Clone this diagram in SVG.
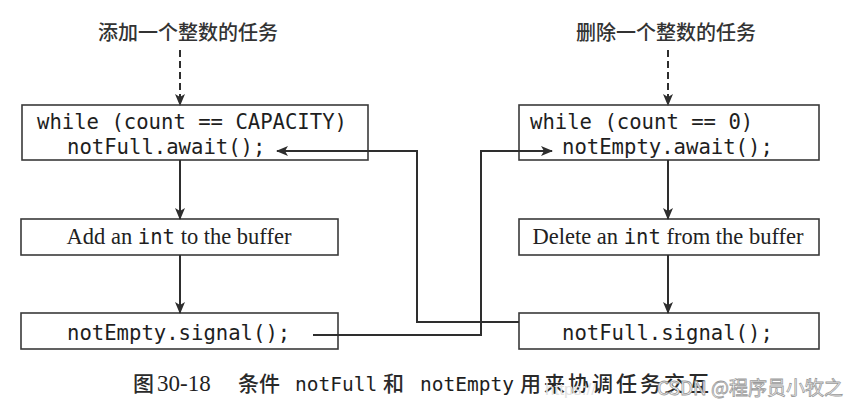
<svg xmlns="http://www.w3.org/2000/svg" width="864" height="415" viewBox="0 0 864 415">
<defs>
<marker id="ah" markerWidth="12" markerHeight="10" refX="11" refY="5" orient="auto" markerUnits="userSpaceOnUse">
<path d="M0,0 L12,5 L0,10 L3,5 Z" fill="#2e2e2e"/>
</marker>
</defs>
<style>
.box{fill:#ffffff;stroke:#3a3a3a;stroke-width:1.6}
.mono{font-family:"DejaVu Sans Mono","Liberation Mono",monospace;font-size:20.6px;fill:#1e1e1e}
.serif{font-family:"Liberation Serif","Noto Sans CJK SC",serif;font-size:22.5px;fill:#222}
.cjk{font-family:"Noto Sans CJK SC",sans-serif;font-size:20px;fill:#333;font-weight:500}
.cap{font-family:"Noto Sans CJK SC",sans-serif;font-size:21px;fill:#2a2a2a;font-weight:500}
.conn{fill:none;stroke:#2e2e2e;stroke-width:2}
.dash{fill:none;stroke:#2e2e2e;stroke-width:2;stroke-dasharray:7 4}
</style>
<rect x="0" y="0" width="864" height="415" fill="#ffffff"/>

<g id="title-left"><text class="cjk" x="188" y="40" text-anchor="middle">添加一个整数的任务</text></g>
<g id="title-right"><text class="cjk" x="666" y="40" text-anchor="middle">删除一个整数的任务</text></g>

<g id="left-wait">
<rect class="box" x="22" y="105" width="346" height="55"/>
<text class="mono" x="37" y="129">while (count == CAPACITY)</text>
<text class="mono" x="67" y="154">notFull.await();</text>
</g>
<g id="left-add">
<rect class="box" x="21" y="219" width="317" height="36"/>
<text class="serif" x="179" y="244" text-anchor="middle">Add an <tspan class="mono" style="font-size:20.6px">int</tspan> to the buffer</text>
</g>
<g id="left-signal">
<rect class="box" x="21" y="313" width="317" height="36"/>
<text class="mono" x="67" y="340">notEmpty.signal();</text>
</g>

<g id="right-wait">
<rect class="box" x="519" y="105" width="300" height="55"/>
<text class="mono" x="530" y="129">while (count == 0)</text>
<text class="mono" x="562" y="154">notEmpty.await();</text>
</g>
<g id="right-delete">
<rect class="box" x="519" y="219" width="300" height="36"/>
<text class="serif" x="668" y="244" text-anchor="middle">Delete an <tspan class="mono" style="font-size:20.6px">int</tspan> from the buffer</text>
</g>
<g id="right-signal">
<rect class="box" x="519" y="313" width="300" height="36"/>
<text class="mono" x="562" y="340">notFull.signal();</text>
</g>

<g id="connectors">
<line class="dash" x1="180" y1="50" x2="180" y2="105" marker-end="url(#ah)"/>
<line class="dash" x1="668" y1="50" x2="668" y2="105" marker-end="url(#ah)"/>
<line class="conn" x1="180" y1="160" x2="180" y2="219" marker-end="url(#ah)"/>
<line class="conn" x1="180" y1="255" x2="180" y2="313" marker-end="url(#ah)"/>
<line class="conn" x1="668" y1="160" x2="668" y2="219" marker-end="url(#ah)"/>
<line class="conn" x1="668" y1="255" x2="668" y2="313" marker-end="url(#ah)"/>
<polyline class="conn" points="313,335 481,335 481,151 552,151" marker-end="url(#ah)"/>
<polyline class="conn" points="519,322 417,322 417,151 277,151" marker-end="url(#ah)"/>
</g>

<g id="caption">
<text class="cap" x="133" y="391">图</text>
<text class="serif" x="157" y="391" style="font-size:23px">30-18</text>
<text class="cap" x="238" y="391">条件</text>
<text class="mono" x="295" y="391" style="font-size:19.5px">notFull</text>
<text class="cap" x="383" y="391">和</text>
<text class="mono" x="420" y="391" style="font-size:19.5px">notEmpty</text>
<text class="cap" x="520" y="391" textLength="189">用来协调任务交互</text>
</g>
<g id="watermark">
<text x="545" y="395" style="font-family:'Liberation Sans',sans-serif;font-size:17px;fill:#e2e2e2">https://</text>
<text x="657" y="395" style="font-family:'Noto Sans CJK SC',sans-serif;font-size:19px;fill:#ffffff;stroke:#9a9a9a;stroke-width:0.8">CSDN @程序员小牧之</text>
</g>
</svg>
